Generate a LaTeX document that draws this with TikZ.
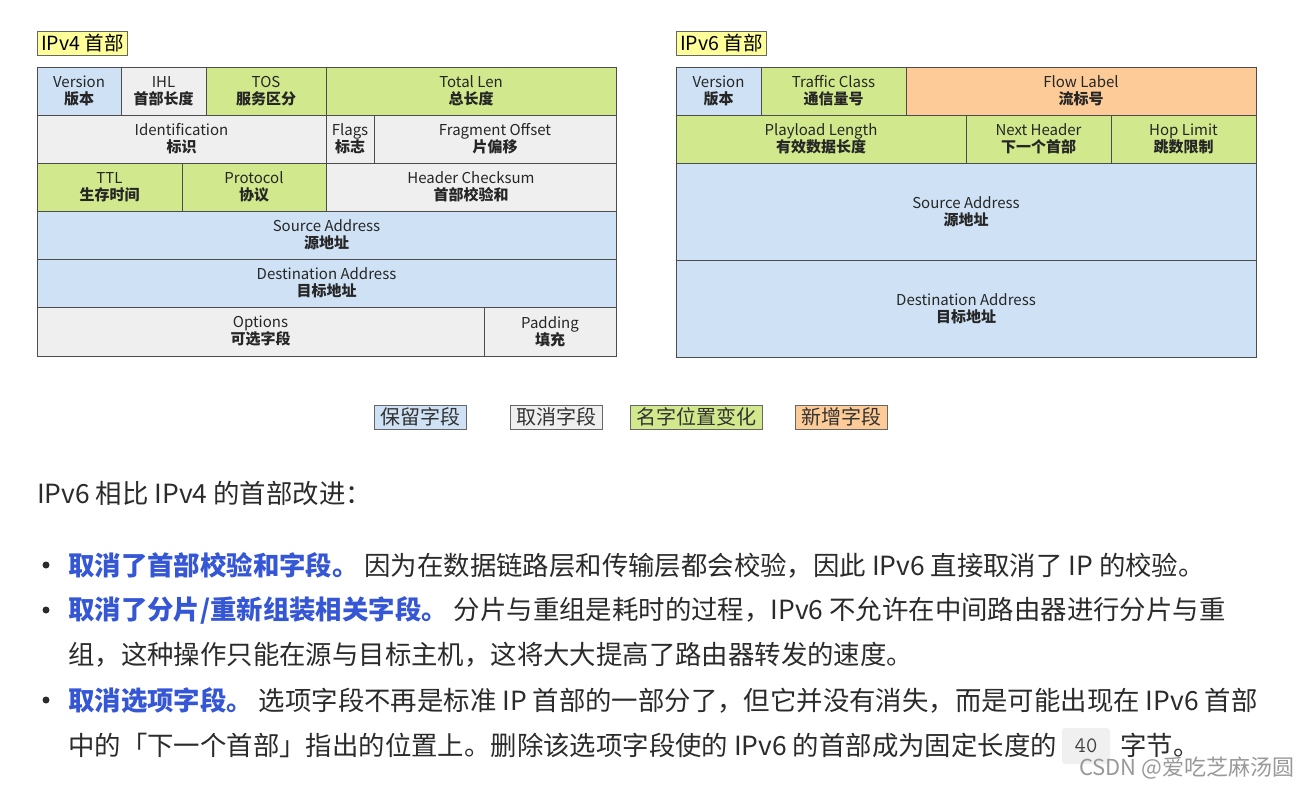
\documentclass[tikz,border=0pt]{standalone}
\usepackage{fontspec}
\setmainfont{Noto Sans CJK SC}
\usetikzlibrary{calc}
\definecolor{keepblue}{HTML}{CFE2F5}
\definecolor{dropgray}{HTML}{EFEFEF}
\definecolor{movegreen}{HTML}{D1E98C}
\definecolor{neworange}{HTML}{FCCB97}
\definecolor{titleyellow}{HTML}{FFFF99}
\definecolor{hlblue}{HTML}{3557D6}
\definecolor{bodytext}{HTML}{2B2B2B}
\tikzset{
  field/.style={draw=black!70, line width=0.9pt},
  fieldtext/.style={align=center, font=\fontsize{15}{17}\selectfont, text=black!85},
  titlebox/.style={draw=black!60, fill=titleyellow, font=\fontsize{19.5}{21}\selectfont, inner xsep=4pt, inner ysep=0pt, minimum height=24pt, anchor=north west},
  legendbox/.style={draw=black!60, line width=0.9pt, font=\fontsize{20}{22}\selectfont, text=black!80, minimum height=24pt, inner xsep=6pt, inner ysep=0pt},
  bodyline/.style={anchor=west, font=\fontsize{26.4}{28}\selectfont, text=bodytext, inner sep=0pt},
  dot/.style={circle, fill=bodytext, inner sep=0pt, minimum size=7pt}
}
% one header field: name, corners, fill, english, chinese
\newcommand{\hfield}[8]{%
  \draw[field, fill=#6] (#2,#3) rectangle (#4,#5);
  \node[fieldtext] (#1) at ($(#2,#3)!0.5!(#4,#5)$) {#7\\\textbf{#8}};
}
\begin{document}
\begin{tikzpicture}[x=1pt, y=-1pt]
\useasboundingbox[fill=white] (0,0) rectangle (1303,785);
% IPv4
\node[titlebox] (v4title) at (37,31) {IPv4 首部};
\hfield{v4ver}{37}{67}{121}{115}{keepblue}{Version}{版本}
\hfield{v4ihl}{121}{67}{206}{115}{dropgray}{IHL}{首部长度}
\hfield{v4tos}{206}{67}{326}{115}{movegreen}{TOS}{服务区分}
\hfield{v4len}{326}{67}{616}{115}{movegreen}{Total Len}{总长度}
\hfield{v4id}{37}{115}{326}{163}{dropgray}{Identification}{标识}
\hfield{v4flags}{326}{115}{374}{163}{dropgray}{Flags}{标志}
\hfield{v4frag}{374}{115}{616}{163}{dropgray}{Fragment Offset}{片偏移}
\hfield{v4ttl}{37}{163}{182}{211}{movegreen}{TTL}{生存时间}
\hfield{v4proto}{182}{163}{326}{211}{movegreen}{Protocol}{协议}
\hfield{v4sum}{326}{163}{616}{211}{dropgray}{Header Checksum}{首部校验和}
\hfield{v4src}{37}{211}{616}{259}{keepblue}{Source Address}{源地址}
\hfield{v4dst}{37}{259}{616}{307}{keepblue}{Destination Address}{目标地址}
\hfield{v4opt}{37}{307}{484}{356}{dropgray}{Options}{可选字段}
\hfield{v4pad}{484}{307}{616}{356}{dropgray}{Padding}{填充}
% IPv6
\node[titlebox] (v6title) at (676,31) {IPv6 首部};
\hfield{v6ver}{676}{67}{761}{115}{keepblue}{Version}{版本}
\hfield{v6class}{761}{67}{906}{115}{movegreen}{Traffic Class}{通信量号}
\hfield{v6flow}{906}{67}{1256}{115}{neworange}{Flow Label}{流标号}
\hfield{v6plen}{676}{115}{966}{163}{movegreen}{Playload Length}{有效数据长度}
\hfield{v6next}{966}{115}{1111}{163}{movegreen}{Next Header}{下一个首部}
\hfield{v6hop}{1111}{115}{1256}{163}{movegreen}{Hop Limit}{跳数限制}
\hfield{v6src}{676}{163}{1256}{260}{keepblue}{Source Address}{源地址}
\hfield{v6dst}{676}{260}{1256}{357}{keepblue}{Destination Address}{目标地址}
% legend
\node[legendbox, fill=keepblue] (lgkeep) at (420,417) {保留字段};
\node[legendbox, fill=dropgray] (lgdrop) at (556,417) {取消字段};
\node[legendbox, fill=movegreen] (lgmove) at (696,417) {名字位置变化};
\node[legendbox, fill=neworange] (lgnew) at (841,417) {新增字段};
% text below
\node[bodyline] (intro) at (37,493) {IPv6 相比 IPv4 的首部改进：};
\node[dot] (dot1) at (46,565) {};
\node[bodyline] (item1) at (68,565) {{\color{hlblue}\bfseries 取消了首部校验和字段。} 因为在数据链路层和传输层都会校验，因此 IPv6 直接取消了 IP 的校验。};
\node[dot] (dot2) at (46,610) {};
\node[bodyline] (item2) at (68,610) {{\color{hlblue}\bfseries 取消了分片/重新组装相关字段。} 分片与重组是耗时的过程，IPv6 不允许在中间路由器进行分片与重};
\node[bodyline] (item2b) at (68,655) {组，这种操作只能在源与目标主机，这将大大提高了路由器转发的速度。};
\node[dot] (dot3) at (46,700) {};
\node[bodyline] (item3) at (68,700) {{\color{hlblue}\bfseries 取消选项字段。} 选项字段不再是标准 IP 首部的一部分了，但它并没有消失，而是可能出现在 IPv6 首部};
\node[bodyline] (item3b) at (68,745) {中的「下一个首部」指出的位置上。删除该选项字段使的 IPv6 的首部成为固定长度的};
\node[fill=black!6, rounded corners=3pt, minimum width=48pt, minimum height=36pt, font=\ttfamily\fontsize{22}{24}\selectfont, text=black!75] (forty) at (1086,746) {40};
\node[bodyline] (item3c) at (1120,745) {字节。};
\node[anchor=east, font=\fontsize{22}{24}\selectfont, text=black!40] (mark) at (1298,768) {CSDN @爱吃芝麻汤圆};
\end{tikzpicture}
\end{document}
